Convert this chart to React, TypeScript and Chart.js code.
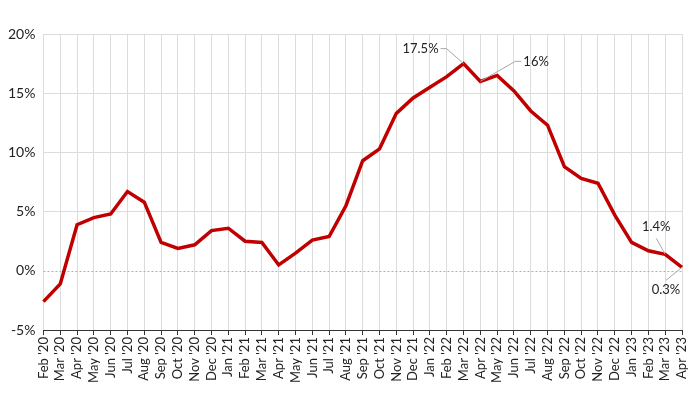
import React, { useEffect, useRef } from "react";
import { Chart, registerables } from "chart.js";

Chart.register(...registerables);

const months: string[] = [
  "Feb '20", "Mar '20", "Apr '20", "May '20", "Jun '20", "Jul '20", "Aug '20", "Sep '20", "Oct '20", "Nov '20", "Dec '20",
  "Jan '21", "Feb '21", "Mar '21", "Apr '21", "May '21", "Jun '21", "Jul '21", "Aug '21", "Sep '21", "Oct '21", "Nov '21", "Dec '21",
  "Jan '22", "Feb '22", "Mar '22", "Apr '22", "May '22", "Jun '22", "Jul '22", "Aug '22", "Sep '22", "Oct '22", "Nov '22", "Dec '22",
  "Jan '23", "Feb '23", "Mar '23", "Apr '23",
];

const values: number[] = [
  -2.6, -1.1, 3.9, 4.5, 4.8, 6.7, 5.8, 2.4, 1.9, 2.2, 3.4,
  3.6, 2.5, 2.4, 0.5, 1.5, 2.6, 2.9, 5.5, 9.3, 10.3, 13.3, 14.6,
  15.5, 16.4, 17.5, 16.0, 16.5, 15.2, 13.5, 12.3, 8.8, 7.8, 7.4, 4.7,
  2.4, 1.7, 1.4, 0.3,
];

const yTicks: number[] = [-5, 0, 5, 10, 15, 20];

const callouts: { index: number; text: string; dx: number; dy: number; align: string }[] = [
  { index: 25, text: "17.5%", dx: -17, dy: -15, align: "right" },
  { index: 26, text: "16%", dx: 35, dy: -20, align: "left" },
  { index: 37, text: "1.4%", dx: -9, dy: -16, align: "above" },
  { index: 38, text: "0.3%", dx: -16, dy: 13, align: "below" },
];

const FONT = "Lato, 'Open Sans', sans-serif";

const overlayPlugin = {
  id: "overlay",
  beforeDatasetsDraw(chart: any) {
    const { ctx, chartArea, scales } = chart;
    const y0 = scales.y.getPixelForValue(0);
    ctx.save();
    ctx.strokeStyle = "#b0b0b0";
    ctx.lineWidth = 1;
    ctx.setLineDash([2, 2]);
    ctx.beginPath();
    ctx.moveTo(chartArea.left, Math.round(y0) + 0.5);
    ctx.lineTo(chartArea.right, Math.round(y0) + 0.5);
    ctx.stroke();
    ctx.restore();
  },
  afterDatasetsDraw(chart: any) {
    const { ctx, scales } = chart;
    ctx.save();
    ctx.font = `13px ${FONT}`;
    ctx.fillStyle = "#222";
    ctx.textBaseline = "middle";
    callouts.forEach((c) => {
      const px = scales.x.getPixelForValue(c.index);
      const py = scales.y.getPixelForValue(values[c.index]);
      const ex = px + c.dx;
      const ey = py + c.dy;
      ctx.strokeStyle = "#a8a8a8";
      ctx.lineWidth = 1;
      ctx.beginPath();
      ctx.moveTo(px, py);
      ctx.lineTo(ex, ey);
      if (c.align === "right") {
        ctx.lineTo(ex - 6, ey);
        ctx.stroke();
        ctx.textAlign = "right";
        ctx.fillText(c.text, ex - 8, ey);
      } else if (c.align === "left") {
        ctx.lineTo(ex + 6, ey);
        ctx.stroke();
        ctx.textAlign = "left";
        ctx.fillText(c.text, ex + 8, ey);
      } else {
        ctx.stroke();
        ctx.textAlign = "center";
        ctx.fillText(c.text, ex, c.align === "above" ? ey - 11 : ey + 10);
      }
    });
    ctx.restore();
  },
};

export default function App() {
  const ref = useRef<HTMLCanvasElement | null>(null);
  useEffect(() => {
    document.body.style.margin = "0";
    const chart = new Chart(ref.current as HTMLCanvasElement, {
      type: "line",
      data: {
        labels: months,
        datasets: [
          {
            data: values,
            borderColor: "#c00000",
            borderWidth: 3.5,
            pointRadius: 0,
            tension: 0,
            fill: false,
          },
        ],
      },
      options: {
        animation: false,
        responsive: false,
        layout: { padding: { top: 34, right: 18, left: 0, bottom: 9 } },
        plugins: { legend: { display: false }, tooltip: { enabled: false } },
        scales: {
          x: {
            offset: false,
            grid: {
              color: "#dcdcdc",
              lineWidth: 1,
              drawTicks: true,
              tickLength: 5,
              tickColor: "#333",
            },
            border: { display: true, color: "#333", width: 1 },
            ticks: {
              autoSkip: false,
              maxRotation: 90,
              minRotation: 90,
              padding: 2,
              color: "#222",
              font: { family: FONT, size: 13 },
            },
          },
          y: {
            min: -5,
            max: 20,
            afterBuildTicks: (axis: any) => {
              axis.ticks = yTicks.map((v) => ({ value: v }));
            },
            grid: {
              color: (c: any) => (c.tick && c.tick.value === 0 ? "rgba(0,0,0,0)" : "#dcdcdc"),
              lineWidth: 1,
              drawTicks: false,
            },
            border: { display: false },
            ticks: {
              padding: 8,
              color: "#222",
              font: { family: FONT, size: 14 },
              callback: (v: any) => `${v}%`,
            },
          },
        },
      },
      plugins: [overlayPlugin],
    });
    return () => chart.destroy();
  }, []);
  return <canvas ref={ref} width={700} height={394} style={{ display: "block" }} />;
}
